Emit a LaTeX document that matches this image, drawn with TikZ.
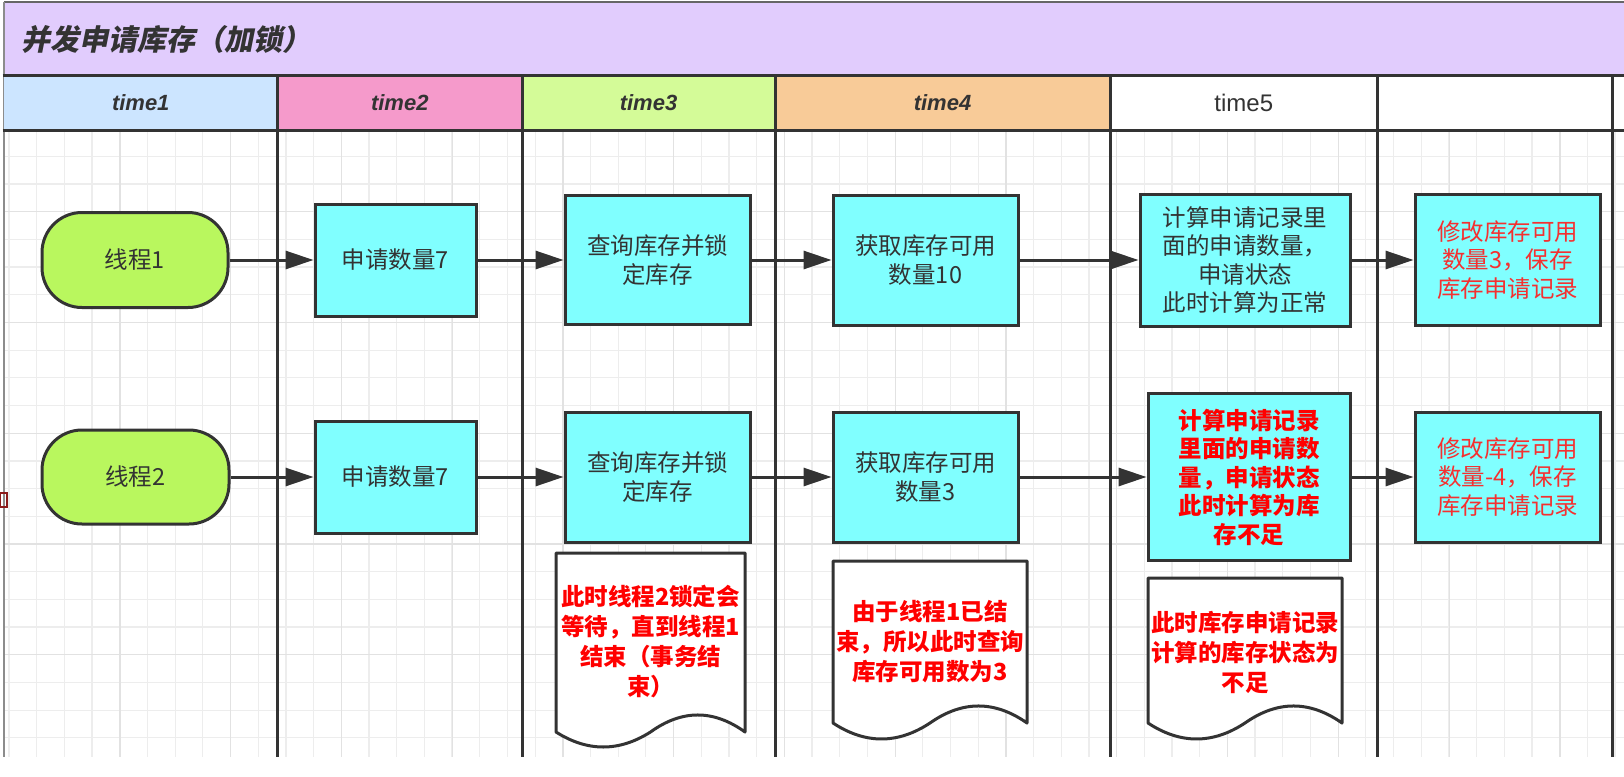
\documentclass[tikz,border=0pt]{standalone}
\usepackage{fontspec}
\usetikzlibrary{arrows.meta}
\newfontfamily\cjk{Noto Sans CJK SC}
\newfontfamily\cjkslant{Noto Sans CJK SC}[FakeSlant=0.2]
\newfontfamily\hsans{Liberation Sans}
\definecolor{linec}{HTML}{333333}
\definecolor{textc}{HTML}{333333}
\definecolor{gridc}{HTML}{EDEDED}
\definecolor{gridm}{HTML}{E2E2E2}
\definecolor{cyanf}{HTML}{80FFFF}
\definecolor{limef}{HTML}{B9F75E}
\definecolor{titlec}{HTML}{E1CCFD}
\definecolor{hone}{HTML}{CCE5FF}
\definecolor{htwo}{HTML}{F59ACB}
\definecolor{hthree}{HTML}{D4FB98}
\definecolor{hfour}{HTML}{F8CB98}
\definecolor{redb}{HTML}{FF0000}
\definecolor{redr}{HTML}{F53030}
\definecolor{darkredc}{HTML}{8B1A1A}
\tikzset{
  lane/.style={draw=linec, line width=3pt},
  procbox/.style={draw=linec, line width=3pt, fill=cyanf, inner sep=0pt, align=center, text=textc,
    font=\cjk\fontsize{23.5}{28.5}\selectfont},
  startbox/.style={procbox, fill=limef, rounded corners=40pt},
  redtxt/.style={text=redr},
  redbold/.style={text=redb, font=\cjk\bfseries\fontsize{23.5}{28.5}\selectfont},
  doctext/.style={align=center, text=redb, inner sep=0pt, font=\cjk\bfseries\fontsize{23.5}{30}\selectfont},
  docshape/.style={draw=linec, line width=3pt, fill=white, line join=round},
  flow/.style={draw=linec, line width=3pt, -{Triangle[length=28pt,width=18pt]}},
  hdr/.style={font=\hsans\bfseries\itshape\fontsize{22}{26}\selectfont, text=textc},
  hdrplain/.style={font=\hsans\fontsize{24}{28}\selectfont, text=textc},
}
\begin{document}
\begin{tikzpicture}[x=1pt,y=-1pt]
\useasboundingbox (0,0) rectangle (1624,776);
\fill[white] (0,0) rectangle (1624,776);
% grid
\foreach \i in {-1,...,57} { \draw[gridc, line width=1.2pt] ({36.7+27.69*\i},130) -- ({36.7+27.69*\i},757); }
\foreach \j in {-1,...,20} { \draw[gridc, line width=1.2pt] (4,{184+27.69*\j}) -- (1624,{184+27.69*\j}); }
\foreach \i in {0,...,13} { \draw[gridm, line width=1.2pt] ({120+110.76*\i},130) -- ({120+110.76*\i},757); }
\foreach \j in {0,...,4} { \draw[gridm, line width=1.2pt] (4,{211.7+110.76*\j}) -- (1624,{211.7+110.76*\j}); }
% title bar
\fill[titlec] (4,2) rectangle (1624,75);
\draw[color=black!60, line width=2pt] (4,2) -- (1624,2);
\draw[color=black!45, line width=1.2pt] (4,2) -- (4,757);
\node[anchor=west, inner sep=0pt, text=textc, font=\cjkslant\bfseries\fontsize{29}{32}\selectfont] (title) at (21,39) {并发申请库存（加锁）};
% header fills
\fill[hone] (4,75) rectangle (277.5,130);
\fill[htwo] (277.5,75) rectangle (522,130);
\fill[hthree] (522,75) rectangle (775,130);
\fill[hfour] (775,75) rectangle (1110,130);
\fill[white] (1110,75) rectangle (1624,130);
\node[hdr] (h1) at (140.75,103) {time1};
\node[hdr] (h2) at (399.75,103) {time2};
\node[hdr] (h3) at (648.5,103) {time3};
\node[hdr] (h4) at (942.5,103) {time4};
\node[hdrplain] (h5) at (1243.75,103) {time5};
% lanes
\draw[lane] (2.5,75) -- (1624,75);
\draw[lane] (2.5,130) -- (1624,130);
\foreach \x in {277.5,522,775,1110,1377.5,1612} { \draw[lane] (\x,75) -- (\x,757); }
% small mark at left edge
\draw[color=darkredc, line width=1.5pt] (0,493) rectangle (7,507);
% row 1
\node[startbox, minimum width=186pt, minimum height=95pt] (t1) at (135,260) {线程1};
\node[procbox, minimum width=161pt, minimum height=112pt] (a1) at (395.5,260) {申请数量7};
\node[procbox, minimum width=185pt, minimum height=129pt] (b1) at (657.5,260) {查询库存并锁\\定库存};
\node[procbox, minimum width=185pt, minimum height=130pt] (c1) at (925.5,260) {获取库存可用\\数量10};
\node[procbox, minimum width=210pt, minimum height=132pt] (e1) at (1245,260) {计算申请记录里\\面的申请数量，\\申请状态\\此时计算为正常};
\node[procbox, redtxt, minimum width=185pt, minimum height=131pt] (f1) at (1507.5,260) {修改库存可用\\数量3，保存\\库存申请记录};
% row 2
\node[startbox, minimum width=187pt, minimum height=94pt] (t2) at (135.5,477) {线程2};
\node[procbox, minimum width=161pt, minimum height=112pt] (a2) at (395.5,477) {申请数量7};
\node[procbox, minimum width=185pt, minimum height=130pt] (b2) at (657.5,477) {查询库存并锁\\定库存};
\node[procbox, minimum width=185pt, minimum height=130pt] (c2) at (925.5,477) {获取库存可用\\数量3};
\node[procbox, redbold, minimum width=202pt, minimum height=167pt] (e2) at (1249,477) {计算申请记录\\里面的申请数\\量，申请状态\\此时计算为库\\存不足};
\node[procbox, redtxt, minimum width=185pt, minimum height=130pt] (f2) at (1507.5,477) {修改库存可用\\数量-4，保存\\库存申请记录};
% arrows
\draw[flow] (t1.east) -- (a1.west);
\draw[flow] (a1.east) -- (b1.west);
\draw[flow] (b1.east) -- (c1.west);
\draw[flow] (c1.east) -- (e1.west);
\draw[flow] (e1.east) -- (f1.west);
\draw[flow] (t2.east) -- (a2.west);
\draw[flow] (a2.east) -- (b2.west);
\draw[flow] (b2.east) -- (c2.west);
\draw[flow] (c2.east) -- (e2.west);
\draw[flow] (e2.east) -- (f2.west);
% documents
\draw[docshape] (556,553) -- (745,553) -- (745,732) .. controls (713.5,709.3) and (682,709.3) .. (650.5,732) .. controls (619,752) and (587.5,752) .. (556,732) -- cycle;
\node[doctext] (d1) at (650.5,642) {此时线程2锁定会\\等待，直到线程1\\结束（事务结\\束）};
\draw[docshape] (833,561) -- (1027,561) -- (1027,723) .. controls (994.7,700.3) and (962.3,700.3) .. (930,723) .. controls (897.7,744.3) and (865.3,744.3) .. (833,723) -- cycle;
\node[doctext] (d2) at (930,642) {由于线程1已结\\束，所以此时查询\\库存可用数为3};
\draw[docshape] (1148,578) -- (1342,578) -- (1342,723) .. controls (1309.7,700.3) and (1277.3,700.3) .. (1245,723) .. controls (1212.7,744.3) and (1180.3,744.3) .. (1148,723) -- cycle;
\node[doctext] (d3) at (1245,652) {此时库存申请记录\\计算的库存状态为\\不足};
\end{tikzpicture}
\end{document}
